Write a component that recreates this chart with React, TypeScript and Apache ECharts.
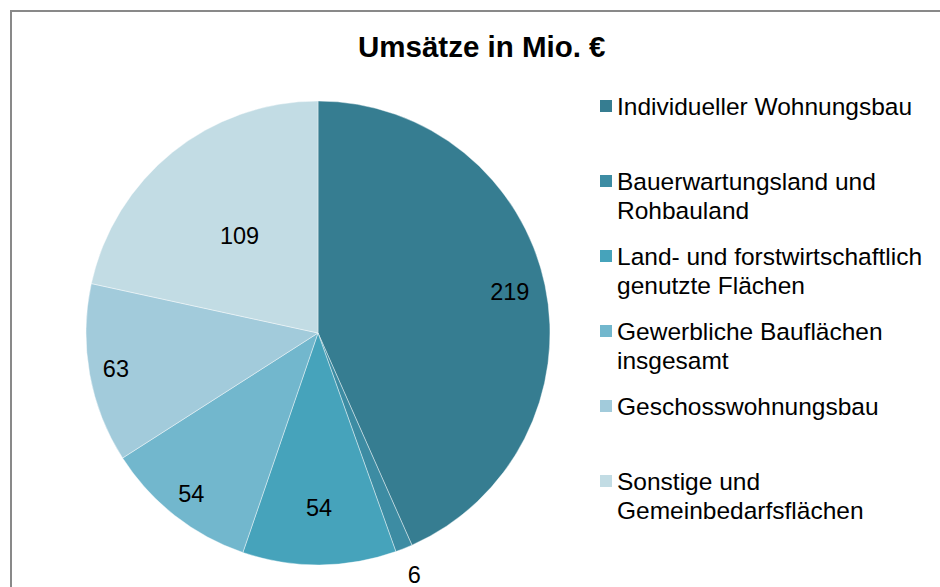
import React, { useEffect, useRef } from "react";
import * as echarts from "echarts";

const titleText = "Umsätze in Mio. €";
const categories = [
  "Individueller Wohnungsbau",
  "Bauerwartungsland und\nRohbauland",
  "Land- und forstwirtschaftlich\ngenutzte Flächen",
  "Gewerbliche Bauflächen\ninsgesamt",
  "Geschosswohnungsbau",
  "Sonstige und\nGemeinbedarfsflächen",
];
const values = [219, 6, 54, 54, 63, 109];
const colors = ["#367D91", "#3D8CA3", "#46A3BB", "#72B7CD", "#A2CBDB", "#C2DCE4"];
// label distance from centre as a fraction of the pie radius (style only)
const labelRadiusFactors = [0.832, 1.108, 0.74, 0.872, 0.872, 0.526];

const FONT = "'Liberation Sans', Arial, sans-serif";
const CENTER = [318, 333];
const R = 232;
const LH = 29;
const LEGEND_FIRST = 106;
const LEGEND_STEP = 75;

export default function App() {
  const ref = useRef<HTMLDivElement>(null);
  useEffect(() => {
    if (!ref.current) return;
    const chart = echarts.init(ref.current, undefined, { renderer: "svg" });

    const mainSeries = {
      type: "pie",
      name: "main",
      center: CENTER,
      radius: R,
      startAngle: 90,
      clockwise: true,
      label: { show: false },
      labelLine: { show: false },
      emphasis: { disabled: true },
      itemStyle: { borderColor: "rgba(255,255,255,0.55)", borderWidth: 0.75 },
      data: categories.map((n, i) => ({
        name: n,
        value: values[i],
        itemStyle: { color: colors[i] },
      })),
    };

    const labelSeries = categories.map((_, i) => ({
      type: "pie",
      name: "label" + i,
      center: CENTER,
      radius: [0, 2 * labelRadiusFactors[i] * R],
      startAngle: 90,
      clockwise: true,
      silent: true,
      legendHoverLink: false,
      emphasis: { disabled: true },
      itemStyle: { color: "rgba(0,0,0,0)", borderWidth: 0 },
      labelLine: { show: false },
      label: {
        show: false,
        position: "inside",
        formatter: "{c}",
        color: "#000",
        fontFamily: FONT,
        fontSize: 23.5,
        rotate: 0,
      },
      data: categories.map((n, j) => ({
        name: n,
        value: values[j],
        label: { show: j === i },
      })),
    }));

    const legends = categories.map((n, i) => {
      const twoLines = n.split("\n").length > 1;
      return {
        orient: "vertical",
        left: 600,
        top: LEGEND_FIRST + LEGEND_STEP * i - 6 - LH / 2 + 6,
        padding: 0,
        itemWidth: 12,
        itemHeight: twoLines ? 12 + LH : 12,
        icon: twoLines ? "path://M0,0h12v12h-12zM0,41L0,41" : "rect",
        selectedMode: false,
        itemStyle: { borderWidth: 0 },
        textStyle: {
          fontFamily: FONT,
          fontSize: 24.5,
          color: "#000",
          lineHeight: LH,
        },
        data: [n],
      };
    });

    chart.setOption({
      animation: false,
      backgroundColor: "#ffffff",
      title: {
        text: titleText,
        left: 353,
        top: 26,
        textStyle: {
          fontFamily: FONT,
          fontWeight: "bold",
          fontSize: 29.5,
          color: "#000",
        },
      },
      legend: legends,
      graphic: [
        {
          type: "rect",
          shape: { x: 11, y: 11, width: 1000, height: 1000 },
          style: { fill: "none", stroke: "#898989", lineWidth: 2 },
          silent: true,
        },
      ],
      series: [mainSeries, ...labelSeries],
    });

    return () => chart.dispose();
  }, []);

  return (
    <div
      ref={ref}
      style={{ position: "fixed", left: 0, top: 0, width: 940, height: 587 }}
    />
  );
}
